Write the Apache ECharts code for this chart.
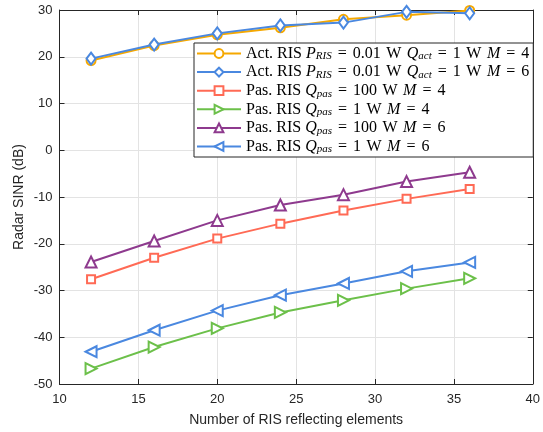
<!DOCTYPE html>
<html><head><meta charset="utf-8">
<script src="https://cdn.jsdelivr.net/npm/echarts@6/dist/echarts.min.js"></script>
<style>html,body{margin:0;padding:0;background:#fff}#c{width:543px;height:432px}</style>
</head><body><div id="c"></div>
<script>
const xValues = [12, 16, 20, 24, 28, 32, 36];
const actM4 = [19.2, 22.4, 24.7, 26.2, 28.0, 28.9, 29.9];
const actM6 = [19.6, 22.6, 25.0, 26.7, 27.3, 29.6, 29.3];
const pas100M4 = [-27.6, -23.0, -18.9, -15.7, -12.9, -10.4, -8.3];
const pas1M4 = [-46.7, -42.1, -38.1, -34.7, -32.1, -29.6, -27.4];
const pas100M6 = [-23.9, -19.4, -15.0, -11.7, -9.5, -6.7, -4.7];
const pas1M6 = [-43.1, -38.5, -34.3, -31.0, -28.5, -25.9, -24.0];
const xTicks = [10, 15, 20, 25, 30, 35, 40];
const yTicks = [-50, -40, -30, -20, -10, 0, 10, 20, 30];

const names = ['actM4', 'actM6', 'pas100M4', 'pas1M4', 'pas100M6', 'pas1M6'];
const legendText = {
  actM4: 'Act. RIS {i|P}{s|RIS}{e|=}{n|0.01}{w|W}{i|Q}{s|act}{e|=}{n|1}{w|W}{i|M}{e|=}{n|4}',
  actM6: 'Act. RIS {i|P}{s|RIS}{e|=}{n|0.01}{w|W}{i|Q}{s|act}{e|=}{n|1}{w|W}{i|M}{e|=}{n|6}',
  pas100M4: 'Pas. RIS {i|Q}{s|pas}{e|=}{n|100}{w|W}{i|M}{e|=}{n|4}',
  pas1M4: 'Pas. RIS {i|Q}{s|pas}{e|=}{n|1}{w|W}{i|M}{e|=}{n|4}',
  pas100M6: 'Pas. RIS {i|Q}{s|pas}{e|=}{n|100}{w|W}{i|M}{e|=}{n|6}',
  pas1M6: 'Pas. RIS {i|Q}{s|pas}{e|=}{n|1}{w|W}{i|M}{e|=}{n|6}'
};
const colors = {actM4:'#F5A800', actM6:'#4A88E0', pas100M4:'#FF6A55', pas1M4:'#6CC04A', pas100M6:'#8E3A8E', pas1M6:'#4A88E0'};
const symbols = {actM4:'emptyCircle', actM6:'emptyDiamond', pas100M4:'emptyRect', pas1M4:'emptyTriangle', pas100M6:'emptyTriangle', pas1M6:'emptyTriangle'};
const rot = {actM4:0, actM6:0, pas100M4:0, pas1M4:-90, pas100M6:0, pas1M6:90};
const sizes = {actM4:9, actM6:[9,12], pas100M4:8, pas1M4:11, pas100M6:11, pas1M6:11};
const data = {actM4, actM6, pas100M4, pas1M4, pas100M6, pas1M6};

const series = names.map(n => ({
  name: n, type: 'line',
  data: xValues.map((x, i) => [x, data[n][i]]),
  symbol: symbols[n], symbolSize: sizes[n], symbolRotate: rot[n],
  lineStyle: {color: colors[n], width: 2},
  itemStyle: {color: colors[n], borderWidth: 2},
  z: n === 'actM6' ? 3 : 2
}));

const axisCol = '#262626';
const serif = 'Liberation Serif';
const chart = echarts.init(document.getElementById('c'));
chart.setOption({
  animation: false,
  backgroundColor: '#fff',
  grid: {left: 59.5, right: 7.5, top: 10, bottom: 47},
  xAxis: [{
    type: 'value', min: 10, max: 40, interval: 5,
    name: 'Number of RIS reflecting elements', nameLocation: 'middle', nameGap: 29, nameMoveOverlap: false,
    nameTextStyle: {fontFamily: 'Liberation Sans', fontSize: 14, color: axisCol},
    axisLine: {onZero: false, lineStyle: {color: axisCol, width: 1}},
    axisTick: {inside: true, length: 5, lineStyle: {color: axisCol}},
    axisLabel: {fontFamily: 'Liberation Sans', fontSize: 13, color: axisCol, margin: 9},
    splitLine: {show: true, lineStyle: {color: '#e3e3e3'}}
  }, {
    type: 'value', min: 10, max: 40, interval: 5, position: 'top',
    axisLine: {onZero: false, lineStyle: {color: axisCol}},
    axisTick: {inside: true, length: 5, lineStyle: {color: axisCol}},
    axisLabel: {show: false}, splitLine: {show: false}
  }],
  yAxis: [{
    type: 'value', min: -50, max: 30, interval: 10,
    name: 'Radar SINR (dB)', nameLocation: 'middle', nameGap: 33, nameRotate: 90, nameMoveOverlap: false,
    nameTextStyle: {fontFamily: 'Liberation Sans', fontSize: 14, color: axisCol},
    axisLine: {show: true, onZero: false, lineStyle: {color: axisCol}},
    axisTick: {show: true, inside: true, length: 5, lineStyle: {color: axisCol}},
    axisLabel: {fontFamily: 'Liberation Sans', fontSize: 13, color: axisCol, margin: 7},
    splitLine: {show: true, lineStyle: {color: '#e3e3e3'}}
  }, {
    type: 'value', min: -50, max: 30, interval: 10, position: 'right',
    axisLine: {show: true, onZero: false, lineStyle: {color: axisCol}},
    axisTick: {show: true, inside: true, length: 5, lineStyle: {color: axisCol}},
    axisLabel: {show: false}, splitLine: {show: false}
  }],
  legend: {
    orient: 'vertical', left: 194, top: 43,
    padding: [2, 4, 2, 2],
    itemWidth: 44, itemHeight: 11, itemGap: 1.6,
    backgroundColor: '#fff', borderColor: axisCol, borderWidth: 1,
    data: names,
    formatter: n => legendText[n],
    textStyle: {
      fontFamily: serif, fontSize: 16, color: '#000', lineHeight: 16,
      rich: {
        n: {fontFamily: serif, fontSize: 16, color: '#000', lineHeight: 16},
        w: {fontFamily: serif, fontSize: 16, color: '#000', lineHeight: 16, padding: [0, 5.5, 0, 5.5]},
        e: {fontFamily: serif, fontSize: 16, color: '#000', lineHeight: 16, padding: [0, 6, 0, 6]},
        i: {fontFamily: serif, fontStyle: 'italic', fontSize: 16, color: '#000', lineHeight: 16},
        s: {fontFamily: serif, fontStyle: 'italic', fontSize: 11, color: '#000', lineHeight: 10, padding: [6, 0, 0, 0]}
      }
    }
  },
  series
});
</script></body></html>
